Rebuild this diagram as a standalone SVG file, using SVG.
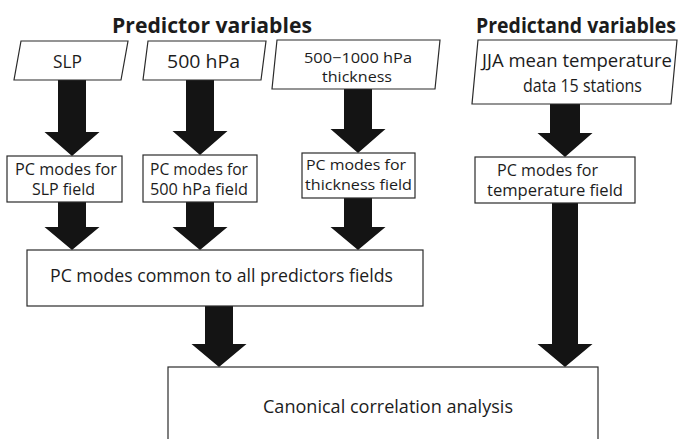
<svg xmlns="http://www.w3.org/2000/svg" width="687" height="439" viewBox="0 0 687 439">
  <style>
    .box { fill: #ffffff; stroke: #2b2b2b; stroke-width: 1.2; }
    .t { font-family: "Open Sans", "Noto Sans", "DejaVu Sans", sans-serif; fill: #1c1c1c; }
    .title { font-weight: bold; font-size: 22px; }
    .big { font-size: 18.5px; }
    .mid { font-size: 17.5px; }
    .sm { font-size: 16px; }
    .xs { font-size: 15px; }
    .xxs { font-size: 14.5px; }
    .arrow { fill: #141414; stroke: none; }
  </style>

  <rect x="0" y="0" width="687" height="439" fill="#ffffff"/>

  <!-- Column headings (bold, horizontally condensed) -->
  <g id="heading-predictors" transform="translate(112,33) scale(0.862,1)">
    <text class="t title" x="0" y="0" textLength="232" lengthAdjust="spacingAndGlyphs">Predictor variables</text>
  </g>
  <g id="heading-predictand" transform="translate(476,33) scale(0.862,1)">
    <text class="t title" x="0" y="0" textLength="232" lengthAdjust="spacingAndGlyphs">Predictand variables</text>
  </g>

  <!-- Connectors: block arrows -->
  <g id="connectors">
    <!-- input fields to PC modes -->
    <polygon class="arrow" points="58,80 86,80 86,132 99.5,132 72,156 44.5,132 58,132"/>
    <polygon class="arrow" points="186,80 214,80 214,131 227.5,131 200,155 172.5,131 186,131"/>
    <polygon class="arrow" points="344,89 372,89 372,129 385.5,129 358,153 330.5,129 344,129"/>
    <polygon class="arrow" points="550,104 580,104 580,133 592.5,133 565,157 537.5,133 550,133"/>
    <!-- PC modes to common modes -->
    <polygon class="arrow" points="58,202 86,202 86,227 99.5,227 72,250 44.5,227 58,227"/>
    <polygon class="arrow" points="186,202 214,202 214,227 227.5,227 200,250 172.5,227 186,227"/>
    <polygon class="arrow" points="344,198 372,198 372,227 385.5,227 358,250 330.5,227 344,227"/>
    <!-- into canonical correlation analysis -->
    <polygon class="arrow" points="205,306 233,306 233,344 246.5,344 219,367 191.5,344 205,344"/>
    <polygon class="arrow" points="552,203 578,203 578,344 592.5,344 565,367 537.5,344 552,344"/>
  </g>

  <!-- Input fields -->
  <g id="input-slp">
    <polygon class="box" points="21,41 128,41 121,80 14,80"/>
    <text class="t big" x="53" y="68" textLength="29" lengthAdjust="spacingAndGlyphs">SLP</text>
  </g>
  <g id="input-500hpa">
    <polygon class="box" points="148,41 266,41 261,80 143,80"/>
    <text class="t big" x="167" y="68" textLength="73" lengthAdjust="spacingAndGlyphs">500 hPa</text>
  </g>
  <g id="input-thickness">
    <polygon class="box" points="277,40 440,40 435,89 272,89"/>
    <text class="t xxs" x="304" y="63" textLength="108" lengthAdjust="spacingAndGlyphs">500−1000 hPa</text>
    <text class="t xxs" x="322" y="82" textLength="70" lengthAdjust="spacingAndGlyphs">thickness</text>
  </g>
  <g id="input-temperature">
    <polygon class="box" points="478,40 677,40 671,104 472,104"/>
    <text class="t mid" x="482" y="67" textLength="190" lengthAdjust="spacingAndGlyphs">JJA mean temperature</text>
    <text class="t mid" x="523" y="92" textLength="119" lengthAdjust="spacingAndGlyphs">data 15 stations</text>
  </g>

  <!-- PC modes of each field -->
  <g id="pc-slp">
    <rect class="box" x="7" y="156" width="115" height="46"/>
    <text class="t sm" x="15" y="175" textLength="102" lengthAdjust="spacingAndGlyphs">PC modes for</text>
    <text class="t sm" x="32" y="195" textLength="63" lengthAdjust="spacingAndGlyphs">SLP field</text>
  </g>
  <g id="pc-500hpa">
    <rect class="box" x="143" y="155" width="114" height="47"/>
    <text class="t sm" x="150" y="175" textLength="98" lengthAdjust="spacingAndGlyphs">PC modes for</text>
    <text class="t sm" x="150" y="195" textLength="98" lengthAdjust="spacingAndGlyphs">500 hPa field</text>
  </g>
  <g id="pc-thickness">
    <rect class="box" x="302" y="153" width="113" height="45"/>
    <text class="t xs" x="306" y="170" textLength="100" lengthAdjust="spacingAndGlyphs">PC modes for</text>
    <text class="t xs" x="305" y="190" textLength="107" lengthAdjust="spacingAndGlyphs">thickness field</text>
  </g>
  <g id="pc-temperature">
    <rect class="box" x="475" y="157" width="160" height="46"/>
    <text class="t sm" x="497" y="176" textLength="101" lengthAdjust="spacingAndGlyphs">PC modes for</text>
    <text class="t sm" x="487" y="196" textLength="136" lengthAdjust="spacingAndGlyphs">temperature field</text>
  </g>

  <!-- Common predictor modes -->
  <g id="pc-common">
    <rect class="box" x="27" y="250" width="396" height="56"/>
    <text class="t mid" x="50" y="282" textLength="343" lengthAdjust="spacingAndGlyphs">PC modes common to all predictors fields</text>
  </g>

  <!-- Canonical correlation analysis -->
  <g id="cca">
    <rect class="box" x="168" y="367" width="430" height="80"/>
    <text class="t mid" x="263" y="413" textLength="250" lengthAdjust="spacingAndGlyphs">Canonical correlation analysis</text>
  </g>
</svg>
